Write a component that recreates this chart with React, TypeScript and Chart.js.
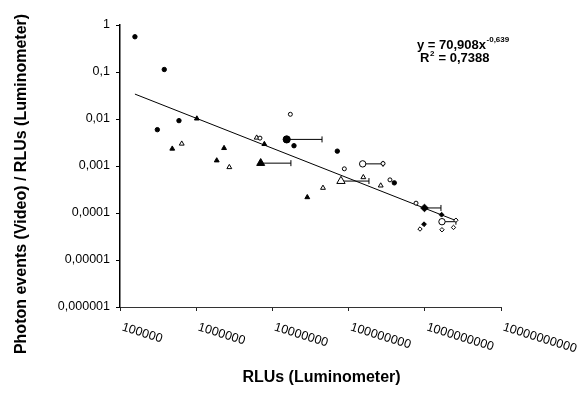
import React, { useEffect, useRef } from 'react';
import { Chart, registerables } from 'chart.js';

Chart.register(...registerables);

// ---- axis ticks ----
const xTickValues = [1e5, 1e6, 1e7, 1e8, 1e9, 1e10];
const xTickLabels = ['100000', '1000000', '10000000', '100000000', '1000000000', '10000000000'];
const yTickValues = [1e-6, 1e-5, 1e-4, 1e-3, 1e-2, 1e-1, 1];
const yTickLabels = ['0,000001', '0,00001', '0,0001', '0,001', '0,01', '0,1', '1'];

const xTitle = 'RLUs (Luminometer)';
const yTitle = 'Photon events (Video) / RLUs (Luminometer)';
const eqMain = 'y = 70,908x';
const eqExp = '-0,639';
const r2Base = 'R';
const r2Sup = '2';
const r2Rest = ' = 0,7388';

// ---- individual measurements ----
const filledCircleX = [157000, 381000, 309000, 594000, 19200000, 71100000, 398000000];
const filledCircleY = [0.562, 0.113, 0.00593, 0.00923, 0.0027, 0.00207, 0.000438];

const openCircleX = [17200000, 6870000, 87900000, 349000000, 767000000, 283000000];
const openCircleY = [0.0126, 0.00392, 0.000871, 0.000507, 0.000162, 0.00113];

const filledTriangleX = [1020000, 485000, 2320000, 1860000, 7840000, 28700000];
const filledTriangleY = [0.0102, 0.00233, 0.0024, 0.00131, 0.00292, 0.000216];

const openTriangleX = [646000, 2720000, 6220000, 46100000, 156000000, 264000000];
const openTriangleY = [0.00298, 0.000942, 0.004, 0.000342, 0.000576, 0.000383];

const filledDiamondX = [1660000000, 977000000];
const filledDiamondY = [0.000092, 0.0000577];

const openDiamondX = [865000000, 1680000000, 2380000000, 2560000000];
const openDiamondY = [0.0000456, 0.000044, 0.0000493, 0.0000703];

// ---- group means with horizontal error bars (mean .. upper) ----
const meanGroups = ['filledCircle', 'openCircle', 'filledTriangle', 'openTriangle', 'filledDiamond', 'openRound'];
const meanX = [15400000, 153000000, 7020000, 79400000, 990000000, 1680000000];
const meanY = [0.00368, 0.00111, 0.00115, 0.000478, 0.000128, 0.0000653];
const meanXHigh = [44800000, 283000000, 17500000, 185000000, 1630000000, 2560000000];

// ---- power trendline end points (as drawn) ----
const trendX = [157000, 2560000000];
const trendY = [0.0339, 0.000069];

const FONT = '"Liberation Sans", Arial, sans-serif';

const zip = (xs: number[], ys: number[]) => xs.map((x, i) => ({ x, y: ys[i] }));

const meanStyle: Record<string, { style: string; filled: boolean; r: number }> = {
  filledCircle: { style: 'circle', filled: true, r: 3.6 },
  openCircle: { style: 'circle', filled: false, r: 3.2 },
  filledTriangle: { style: 'triangle', filled: true, r: 4.6 },
  openTriangle: { style: 'triangle', filled: false, r: 4.8 },
  filledDiamond: { style: 'rectRot', filled: true, r: 3.8 },
  openRound: { style: 'circle', filled: false, r: 3.2 },
};

const textPlugin = {
  id: 'texts',
  afterDraw(chart: any) {
    const ctx = chart.ctx as CanvasRenderingContext2D;
    const xs = chart.scales.x;
    const ys = chart.scales.y;
    const area = chart.chartArea;
    ctx.save();
    ctx.fillStyle = '#000';

    // rotated x tick labels (start at the tick, slanting down-right)
    ctx.font = `12.5px ${FONT}`;
    ctx.textAlign = 'left';
    ctx.textBaseline = 'top';
    xTickValues.forEach((v, i) => {
      const px = xs.getPixelForValue(v);
      ctx.save();
      ctx.translate(px + 4, area.bottom + 14);
      ctx.rotate((17 * Math.PI) / 180);
      ctx.fillText(xTickLabels[i], 0, 0);
      ctx.restore();
    });

    // axis titles
    ctx.font = `bold 16px ${FONT}`;
    ctx.textAlign = 'center';
    ctx.textBaseline = 'middle';
    ctx.fillText(xTitle, (area.left + area.right) / 2 + 11, area.bottom + 71);
    ctx.save();
    ctx.translate(22, (area.top + area.bottom) / 2 + 18);
    ctx.rotate(-Math.PI / 2);
    ctx.fillText(yTitle, 0, 0);
    ctx.restore();

    // trendline equation
    ctx.textAlign = 'left';
    ctx.textBaseline = 'alphabetic';
    const ex = area.right - 84;
    ctx.font = `bold 13px ${FONT}`;
    ctx.fillText(eqMain, ex, area.top + 24);
    const w1 = ctx.measureText(eqMain).width;
    ctx.font = `bold 8px ${FONT}`;
    ctx.fillText(eqExp, ex + w1 + 0.5, area.top + 17);

    const rx = ex + 3;
    ctx.font = `bold 13px ${FONT}`;
    ctx.fillText(r2Base, rx, area.top + 37);
    const wr = ctx.measureText(r2Base).width;
    ctx.font = `bold 8px ${FONT}`;
    ctx.fillText(r2Sup, rx + wr + 0.5, area.top + 31);
    const ws = ctx.measureText(r2Sup).width;
    ctx.font = `bold 13px ${FONT}`;
    ctx.fillText(r2Rest, rx + wr + ws + 1, area.top + 37);

    ctx.restore();
  },
};

export default function App() {
  const ref = useRef<HTMLCanvasElement>(null);

  useEffect(() => {
    if (!ref.current) return;

    const marker = (data: any[], style: string, filled: boolean, r: number, order: number) => ({
      type: 'scatter',
      data,
      pointStyle: style,
      pointRadius: r,
      pointBackgroundColor: filled ? '#000' : '#fff',
      pointBorderColor: '#000',
      pointBorderWidth: 1,
      showLine: false,
      order,
    });

    const datasets: any[] = [
      ...meanGroups.map((g, i) => {
        const s = meanStyle[g];
        return marker([{ x: meanX[i], y: meanY[i] }], s.style, s.filled, s.r, 0);
      }),
      marker(zip(filledCircleX, filledCircleY), 'circle', true, 2.2, 1),
      marker(zip(openCircleX, openCircleY), 'circle', false, 2.0, 1),
      marker(zip(filledTriangleX, filledTriangleY), 'triangle', true, 2.8, 1),
      marker(zip(openTriangleX, openTriangleY), 'triangle', false, 2.8, 1),
      marker(zip(filledDiamondX, filledDiamondY), 'rectRot', true, 2.4, 1),
      marker(zip(openDiamondX, openDiamondY), 'rectRot', false, 2.2, 1),
      {
        type: 'scatter',
        data: zip(trendX, trendY),
        showLine: true,
        borderColor: '#000',
        borderWidth: 1,
        pointRadius: 0,
        order: 2,
      },
      ...meanGroups.map((g, i) => ({
        type: 'scatter',
        data: [
          { x: meanX[i], y: meanY[i] },
          { x: meanXHigh[i], y: meanY[i] },
        ],
        showLine: true,
        borderColor: '#000',
        borderWidth: 1,
        pointStyle: 'line',
        pointRotation: 90,
        pointRadius: [0, 3],
        pointBorderColor: '#000',
        pointBorderWidth: 1,
        order: 3,
      })),
    ];

    const chart = new Chart(ref.current, {
      type: 'scatter',
      data: { datasets },
      options: {
        responsive: false,
        animation: false,
        events: [],
        layout: { padding: { top: 25, right: 81, left: 0, bottom: 0 } },
        plugins: { legend: { display: false }, tooltip: { enabled: false } },
        scales: {
          x: {
            type: 'logarithmic',
            min: 1e5,
            max: 1e10,
            afterBuildTicks: (s: any) => {
              s.ticks = xTickValues.map((v) => ({ value: v }));
            },
            afterFit: (s: any) => {
              s.height = 98;
            },
            ticks: { display: false },
            grid: { drawOnChartArea: false, drawTicks: true, tickLength: 4, color: '#222', lineWidth: 1 },
            border: { display: true, color: '#333', width: 1 },
          },
          y: {
            type: 'logarithmic',
            min: 1e-6,
            max: 1,
            afterBuildTicks: (s: any) => {
              s.ticks = yTickValues.map((v) => ({ value: v }));
            },
            afterFit: (s: any) => {
              s.width = 120;
            },
            ticks: {
              color: '#000',
              padding: 6,
              font: { family: FONT, size: 12.5 },
              callback: (value: any) => {
                let best = 0;
                yTickValues.forEach((v, i) => {
                  if (Math.abs(Math.log10(v) - Math.log10(value)) < Math.abs(Math.log10(yTickValues[best]) - Math.log10(value))) best = i;
                });
                return yTickLabels[best];
              },
            },
            grid: { drawOnChartArea: false, drawTicks: true, tickLength: 4, color: '#000', lineWidth: 1 },
            border: { display: true, color: '#000', width: 1.5 },
          },
        },
      },
      plugins: [textPlugin],
    } as any);

    return () => chart.destroy();
  }, []);

  return (
    <div style={{ position: 'absolute', left: 0, top: 0, width: 582, height: 405, background: '#fff' }}>
      <canvas ref={ref} width={582} height={405} style={{ width: 582, height: 405, display: 'block' }} />
    </div>
  );
}
